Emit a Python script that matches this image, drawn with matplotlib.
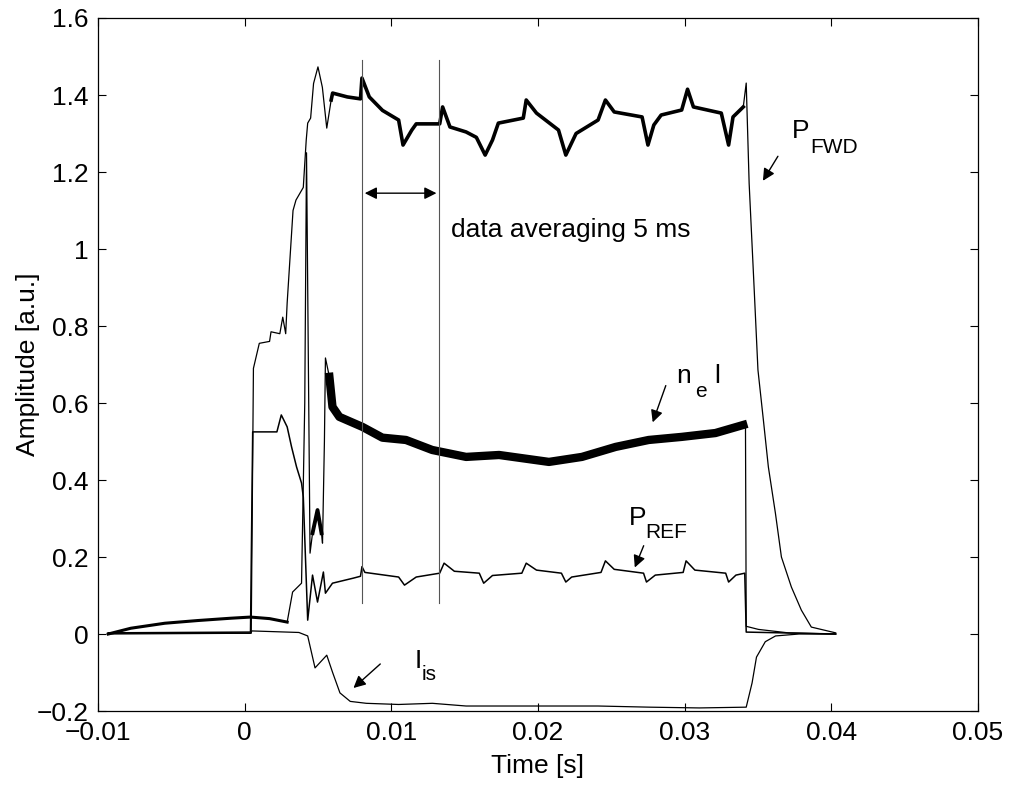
import numpy as np
import matplotlib.pyplot as plt

plt.rcParams['font.family'] = ['Liberation Sans', 'DejaVu Sans']

# values (time in s, amplitude in a.u.)
t_fwd = [-0.0093, 0.00045, 0.0006, 0.0010, 0.0017, 0.0018, 0.0024, 0.0026, 0.0028, 0.0029,
         0.0033, 0.0035, 0.0040, 0.0042, 0.0043, 0.0045, 0.0047, 0.0050, 0.0053, 0.0056,
         0.0059, 0.0060, 0.0070, 0.0079, 0.0080, 0.0085, 0.0094, 0.0105, 0.0108, 0.0114,
         0.0117, 0.0133, 0.0135, 0.0140, 0.0151, 0.0158, 0.0164, 0.0169, 0.0173, 0.0190,
         0.0192, 0.0199, 0.0214, 0.0219, 0.0226, 0.0241, 0.0246, 0.0252, 0.0271, 0.0275,
         0.0279, 0.0284, 0.0298, 0.0302, 0.0306, 0.0325, 0.0330, 0.0333, 0.0340, 0.0342,
         0.0344, 0.03475, 0.0350, 0.03537, 0.03571, 0.03619, 0.0366, 0.03728, 0.03796, 0.03864,
         0.0403]
p_fwd = [0.0, 0.002, 0.69, 0.755, 0.76, 0.785, 0.78, 0.823, 0.78, 0.86,
         1.10, 1.127, 1.16, 1.283, 1.327, 1.34, 1.43, 1.473, 1.42, 1.314,
         1.387, 1.405, 1.395, 1.39, 1.444, 1.395, 1.36, 1.335, 1.27, 1.309,
         1.325, 1.325, 1.369, 1.317, 1.304, 1.29, 1.244, 1.283, 1.327, 1.34,
         1.387, 1.353, 1.309, 1.244, 1.30, 1.335, 1.387, 1.356, 1.343, 1.27,
         1.322, 1.348, 1.361, 1.415, 1.369, 1.353, 1.27, 1.343, 1.369, 1.431,
         1.17, 0.89, 0.686, 0.556, 0.434, 0.314, 0.2, 0.122, 0.062, 0.018,
         0.003]

t_nel = [-0.0093, -0.00776, -0.00544, -0.0032, -0.00095, 0.0004, 0.0017, 0.0029, 0.00327, 0.00388,
         0.0041, 0.00422, 0.00446, 0.00463, 0.00497, 0.00524, 0.00531, 0.00544, 0.00551, 0.00578,
         0.00599, 0.00646, 0.00803, 0.00939, 0.0110, 0.01279, 0.0151, 0.01735, 0.02075, 0.0230,
         0.0253, 0.02755, 0.0298, 0.0321, 0.0340, 0.03415, 0.0342, 0.03503, 0.03707, 0.0403]
nel = [0.0, 0.015, 0.028, 0.035, 0.041, 0.044, 0.04, 0.031, 0.109, 0.132,
       0.6, 1.25, 0.21, 0.262, 0.322, 0.262, 0.236, 0.5, 0.717, 0.668,
       0.59, 0.564, 0.538, 0.51, 0.504, 0.478, 0.46, 0.465, 0.447, 0.46,
       0.486, 0.504, 0.512, 0.522, 0.543, 0.54, 0.02, 0.012, 0.003, 0.0]

t_ref = [-0.0093, 0.0004, 0.00055, 0.0022, 0.0025, 0.0029, 0.0032, 0.00354, 0.00388, 0.0040,
         0.0043, 0.00463, 0.00497, 0.00537, 0.00551, 0.00599, 0.0074, 0.0079, 0.0080, 0.0082,
         0.0105, 0.0109, 0.0117, 0.0133, 0.0136, 0.0143, 0.0160, 0.0163, 0.0169, 0.0189,
         0.0192, 0.0199, 0.0216, 0.0219, 0.0223, 0.0243, 0.0246, 0.0252, 0.0272, 0.0274,
         0.0280, 0.0299, 0.0301, 0.0307, 0.0328, 0.0330, 0.0335, 0.0341, 0.0342, 0.0403]
p_ref = [0.003, 0.005, 0.525, 0.525, 0.569, 0.538, 0.486, 0.434, 0.392, 0.356,
         0.036, 0.153, 0.083, 0.161, 0.106, 0.132, 0.145, 0.15, 0.175, 0.16,
         0.148, 0.127, 0.148, 0.158, 0.184, 0.163, 0.158, 0.132, 0.152, 0.158,
         0.184, 0.166, 0.158, 0.135, 0.148, 0.16, 0.19, 0.168, 0.158, 0.135,
         0.153, 0.16, 0.19, 0.166, 0.158, 0.135, 0.153, 0.158, 0.005, 0.0]

t_is = [-0.0093, 0.0004, 0.0005, 0.0037, 0.0043, 0.0048, 0.0056, 0.0060, 0.0065, 0.0072,
        0.0083, 0.0105, 0.0128, 0.0151, 0.0196, 0.0241, 0.0276, 0.0310, 0.0342, 0.0346,
        0.0349, 0.0355, 0.0362, 0.0378, 0.0403]
i_is = [0.002, 0.002, 0.008, 0.004, -0.005, -0.088, -0.055, -0.10, -0.153, -0.175,
        -0.18, -0.183, -0.18, -0.187, -0.187, -0.187, -0.19, -0.192, -0.19, -0.127,
        -0.06, -0.02, -0.005, 0.0, 0.0]

avg_window = [0.0080, 0.01327]
xticks = [-0.01, 0, 0.01, 0.02, 0.03, 0.04, 0.05]
xticklabels = ['\u22120.01', '0', '0.01', '0.02', '0.03', '0.04', '0.05']
yticks = [-0.2, 0, 0.2, 0.4, 0.6, 0.8, 1.0, 1.2, 1.4, 1.6]
yticklabels = ['\u22120.2', '0', '0.2', '0.4', '0.6', '0.8', '1', '1.2', '1.4', '1.6']

fig = plt.figure(figsize=(10.11, 7.86), dpi=100)
ax = fig.add_axes([0.0969, 0.0954, 0.8704, 0.8817])

t_fwd = np.array(t_fwd); p_fwd = np.array(p_fwd)
t_nel = np.array(t_nel); nel = np.array(nel)

# P_FWD, noisy plateau drawn heavier
ax.plot(t_fwd, p_fwd, color='k', lw=0.9)
m = (t_fwd >= 0.0058) & (t_fwd <= 0.0341)
ax.plot(t_fwd[m], p_fwd[m], color='k', lw=2.6)

# n_e l, noisy parts drawn heavier
ax.plot(t_nel, nel, color='k', lw=0.9)
m = (t_nel >= 0.0056) & (t_nel <= 0.0341)
ax.plot(t_nel[m], nel[m], color='k', lw=6.0)
m = (t_nel >= 0.0046) & (t_nel <= 0.0053)
ax.plot(t_nel[m], nel[m], color='k', lw=2.8)
m = t_nel <= 0.0029
ax.plot(t_nel[m], nel[m], color='k', lw=2.2)

ax.plot(t_ref, p_ref, color='k', lw=1.1)
ax.plot(t_is, i_is, color='k', lw=0.9)

for xv in avg_window:
    ax.plot([xv, xv], [0.08, 1.49], color='#555555', lw=0.8)
ax.annotate('', xy=(avg_window[0], 1.145), xytext=(avg_window[1], 1.145),
            arrowprops=dict(arrowstyle='<|-|>', color='k', lw=1.0, mutation_scale=18))
ax.text(0.0141, 1.05, 'data averaging 5 ms', fontsize=19, va='center')

arrow = dict(arrowstyle='-|>', color='k', lw=1.0, mutation_scale=18)
ax.annotate('', xy=(0.03524, 1.171), xytext=(0.03646, 1.247), arrowprops=arrow)
ax.text(0.03728, 1.288, 'P', fontsize=19, va='baseline')
ax.text(0.03857, 1.249, 'FWD', fontsize=15, va='baseline')

ax.annotate('', xy=(0.02776, 0.543), xytext=(0.02878, 0.652), arrowprops=arrow)
ax.text(0.02946, 0.652, 'n', fontsize=19, va='baseline')
ax.text(0.03075, 0.616, 'e', fontsize=15, va='baseline')
ax.text(0.0320, 0.652, 'l', fontsize=19, va='baseline')

ax.annotate('', xy=(0.02653, 0.166), xytext=(0.02728, 0.236), arrowprops=arrow)
ax.text(0.02619, 0.283, 'P', fontsize=19, va='baseline')
ax.text(0.02735, 0.249, 'REF', fontsize=15, va='baseline')

ax.annotate('', xy=(0.00728, -0.145), xytext=(0.00939, -0.073), arrowprops=arrow)
ax.text(0.01156, -0.088, 'I', fontsize=19, va='baseline')
ax.text(0.01204, -0.119, 'is', fontsize=15, va='baseline')

ax.set_xlim(-0.01, 0.05)
ax.set_ylim(-0.2, 1.6)
ax.set_xticks(xticks)
ax.set_xticklabels(xticklabels)
ax.set_yticks(yticks)
ax.set_yticklabels(yticklabels)
ax.tick_params(direction='in', length=6, width=0.8, top=True, right=True,
               labelsize=19, pad=7)
for s in ax.spines.values():
    s.set_linewidth(0.9)
ax.set_xlabel('Time [s]', fontsize=19, labelpad=7)
ax.set_ylabel('Amplitude [a.u.]', fontsize=19)
ax.yaxis.set_label_coords(-0.066, 0.5)

fig.savefig('out.png', dpi=100)
